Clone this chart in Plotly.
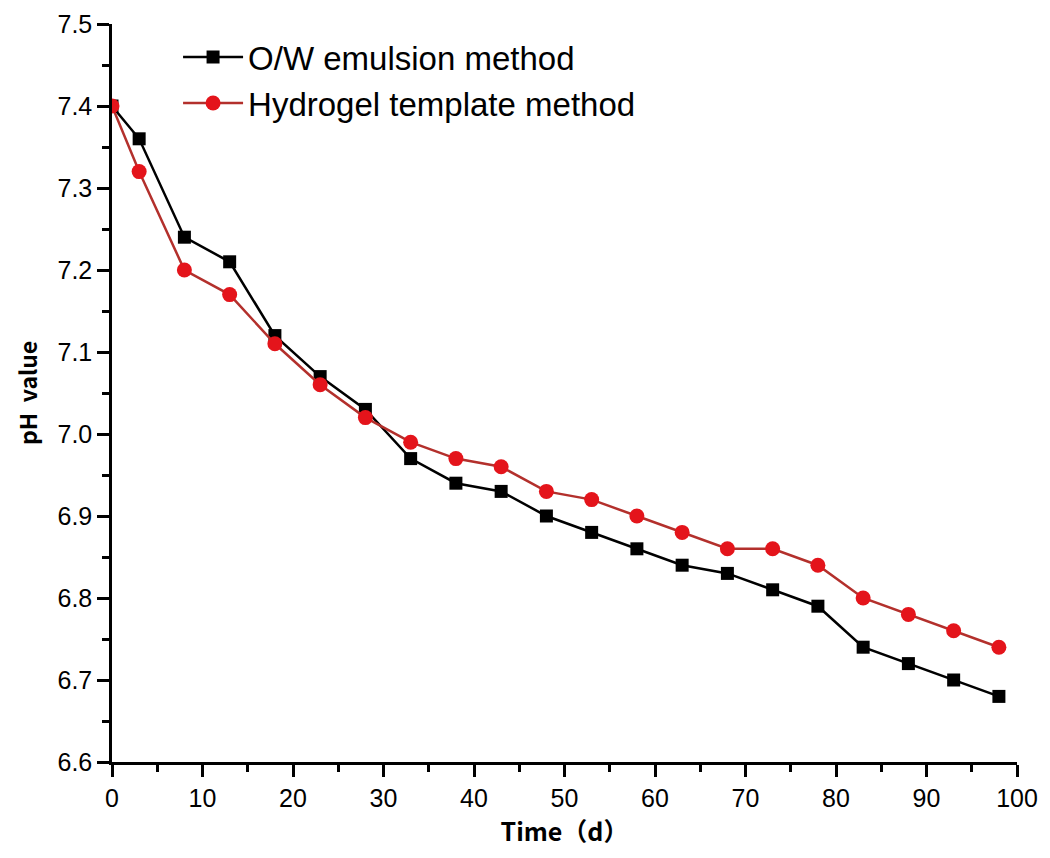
import plotly.graph_objects as go

time_d = [0, 3, 8, 13, 18, 23, 28, 33, 38, 43, 48, 53, 58, 63, 68, 73, 78, 83, 88, 93, 98]
ow_emulsion = [7.40, 7.36, 7.24, 7.21, 7.12, 7.07, 7.03, 6.97, 6.94, 6.93, 6.90, 6.88, 6.86,
               6.84, 6.83, 6.81, 6.79, 6.74, 6.72, 6.70, 6.68]
hydrogel = [7.40, 7.32, 7.20, 7.17, 7.11, 7.06, 7.02, 6.99, 6.97, 6.96, 6.93, 6.92, 6.90,
            6.88, 6.86, 6.86, 6.84, 6.80, 6.78, 6.76, 6.74]
x_ticks = [0, 10, 20, 30, 40, 50, 60, 70, 80, 90, 100]
y_ticks = [6.6, 6.7, 6.8, 6.9, 7.0, 7.1, 7.2, 7.3, 7.4, 7.5]

fig = go.Figure()
fig.add_trace(go.Scatter(
    x=time_d, y=ow_emulsion, mode="lines+markers", name="O/W emulsion method",
    line=dict(color="black", width=2.5),
    marker=dict(symbol="square", size=13, color="black"),
))
fig.add_trace(go.Scatter(
    x=time_d, y=hydrogel, mode="lines+markers", name="Hydrogel template method",
    line=dict(color="#b3302c", width=2.5),
    marker=dict(symbol="circle", size=15, color="#e4141b"),
))

tickfont = dict(family="Liberation Sans, Arial, sans-serif", size=25, color="black")
fig.update_layout(
    width=1050, height=858,
    paper_bgcolor="white", plot_bgcolor="white",
    margin=dict(l=104, r=41, t=16, b=104),
    showlegend=True,
    legend=dict(x=0.073, y=0.993, xanchor="left", yanchor="top",
                bgcolor="rgba(0,0,0,0)", borderwidth=0,
                font=dict(family="Liberation Sans, Arial, sans-serif", size=33, color="black"),
                itemwidth=60, tracegroupgap=0),
    xaxis=dict(range=[0, 100], tickvals=x_ticks, ticktext=[str(v) for v in x_ticks],
               automargin=False,
               showline=True, linecolor="black", linewidth=2.5, mirror=False,
               ticks="outside", ticklen=12, tickwidth=2.5, tickcolor="black",
               minor=dict(ticks="outside", ticklen=7, tickwidth=2.5, tickcolor="black", dtick=5),
               showgrid=False, zeroline=False, tickfont=tickfont,
               title=dict(text="Time（d）", standoff=4,
                          font=dict(family="Noto Sans CJK SC, sans-serif", size=25, color="black", weight="bold"))),
    yaxis=dict(range=[6.6, 7.5], tickvals=y_ticks, ticktext=[f"{v:.1f}" for v in y_ticks],
               automargin=False,
               showline=True, linecolor="black", linewidth=2.5, mirror=False,
               ticks="outside", ticklen=12, tickwidth=2.5, tickcolor="black",
               minor=dict(ticks="outside", ticklen=7, tickwidth=2.5, tickcolor="black", dtick=0.05),
               showgrid=False, zeroline=False, tickfont=tickfont),
    annotations=[dict(text="pH  value", xref="paper", yref="paper", x=0, y=0.5,
                      xanchor="center", yanchor="middle", xshift=-85, textangle=-90,
                      showarrow=False,
                      font=dict(family="Noto Sans CJK SC, sans-serif", size=23, color="black", weight="bold"))],
)

fig.write_html("out.html")
